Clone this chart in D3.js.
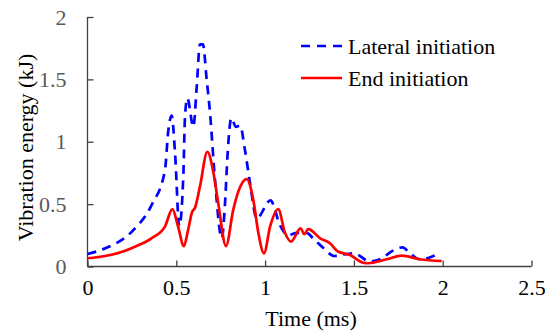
<!DOCTYPE html>
<html><head><meta charset="utf-8">
<script src="https://cdn.jsdelivr.net/npm/d3@7/dist/d3.min.js"></script>
<style>body{margin:0;background:#fff}svg{display:block}</style>
</head><body><svg id="c" width="545" height="332"></svg>
<script>
const xTicks = [0, 0.5, 1, 1.5, 2, 2.5];
const yTicks = [0, 0.5, 1, 1.5, 2];
const seriesNames = ["Lateral initiation", "End initiation"];
const lateralT = [0, 0.1, 0.25, 0.36, 0.436, 0.455, 0.474, 0.493, 0.517, 0.54, 0.549, 0.562, 0.596, 0.615, 0.633, 0.65, 0.671, 0.69, 0.718, 0.756, 0.774, 0.79, 0.81, 0.835, 0.859, 0.887, 0.915, 0.953, 1.03, 1.084, 1.13, 1.18, 1.234, 1.27, 1.33, 1.39, 1.46, 1.5, 1.59, 1.647, 1.72, 1.775, 1.806, 1.87, 1.93, 1.96];
const lateralV = [0.10, 0.146, 0.28, 0.49, 0.77, 1.09, 1.21, 0.91, 0.32, 0.75, 1.2, 1.35, 1.12, 1.44, 1.78, 1.78, 1.5, 1.23, 0.69, 0.226, 0.5, 0.93, 1.19, 1.12, 1.13, 0.93, 0.67, 0.386, 0.53, 0.33, 0.25, 0.27, 0.27, 0.226, 0.146, 0.084, 0.1, 0.106, 0.04, 0.058, 0.127, 0.154, 0.12, 0.058, 0.074, 0.092];
const endT = [0, 0.1, 0.2, 0.27, 0.36, 0.436, 0.478, 0.51, 0.543, 0.566, 0.59, 0.605, 0.633, 0.675, 0.708, 0.737, 0.78, 0.82, 0.849, 0.896, 0.934, 0.962, 0.994, 1.028, 1.074, 1.112, 1.146, 1.2, 1.22, 1.243, 1.31, 1.365, 1.41, 1.478, 1.553, 1.58, 1.685, 1.77, 1.87, 1.994];
const endV = [0.066, 0.084, 0.12, 0.16, 0.226, 0.32, 0.46, 0.32, 0.164, 0.29, 0.44, 0.47, 0.64, 0.92, 0.76, 0.5, 0.164, 0.45, 0.6, 0.70, 0.53, 0.27, 0.106, 0.32, 0.46, 0.27, 0.2, 0.306, 0.26, 0.30, 0.226, 0.186, 0.12, 0.092, 0.03, 0.026, 0.058, 0.087, 0.058, 0.044];

const FONT = '"Liberation Serif"';
const svg = d3.select("#c");
const x = d3.scaleLinear().domain([0, 2.5]).range([87.5, 531.5]);
const y = d3.scaleLinear().domain([0, 2]).range([266.5, 17]);
const axisCol = "#404040";

// axes
const gx = svg.append("g").attr("transform", `translate(0,${y(0)})`)
  .call(d3.axisBottom(x).tickValues(xTicks).tickSize(-6).tickPadding(13).tickFormat(d3.format("")));
gx.select(".domain").attr("stroke", axisCol).attr("stroke-width", 1.3).attr("d", `M${x(0)},0H${x(2.5)}`);
gx.selectAll(".tick line").attr("stroke", axisCol).attr("stroke-width", 1.3);
gx.selectAll("text").style("font-family", FONT).style("font-size", "22px").attr("fill", "#000");

const gy = svg.append("g").attr("transform", `translate(${x(0)},0)`)
  .call(d3.axisLeft(y).tickValues(yTicks).tickSize(-6).tickPadding(21).tickFormat(d3.format("")));
gy.select(".domain").attr("stroke", axisCol).attr("stroke-width", 1.3).attr("d", `M0,${y(0)}V${y(2)}`);
gy.selectAll(".tick line").attr("stroke", axisCol).attr("stroke-width", 1.3);
gy.selectAll("text").style("font-family", FONT).style("font-size", "22px").attr("fill", "#595959");

// titles
svg.append("text").attr("x", 311).attr("y", 326).attr("text-anchor", "middle")
  .style("font-family", FONT).style("font-size", "22px").attr("fill", "#000").text("Time (ms)");
svg.append("text").attr("transform", "translate(33,147.5) rotate(-90)").attr("text-anchor", "middle")
  .style("font-family", FONT).style("font-size", "22px").attr("fill", "#000").text("Vibration energy (kJ)");

// lines
const line = d3.line().x(d => x(d[0])).y(d => y(d[1])).curve(d3.curveMonotoneX);
const lateral = lateralT.map((t, i) => [t, lateralV[i]]);
const end = endT.map((t, i) => [t, endV[i]]);
svg.append("path").attr("d", line(lateral)).attr("fill", "none").attr("stroke", "#0000ff")
  .attr("stroke-width", 2.7).attr("stroke-dasharray", "9,6.5");
svg.append("path").attr("d", line(end)).attr("fill", "none").attr("stroke", "#ff0000")
  .attr("stroke-width", 2.7);

// legend
const leg = [{name: seriesNames[0], col: "#0000ff", dash: "9,7", ly: 46, ty: 53.5},
             {name: seriesNames[1], col: "#ff0000", dash: null, ly: 78, ty: 85.5}];
leg.forEach(l => {
  svg.append("line").attr("x1", 301).attr("x2", 342).attr("y1", l.ly).attr("y2", l.ly)
    .attr("stroke", l.col).attr("stroke-width", 2.7).attr("stroke-dasharray", l.dash);
  svg.append("text").attr("x", 348).attr("y", l.ty)
    .style("font-family", FONT).style("font-size", "22px").attr("fill", "#000").text(l.name);
});
</script></body></html>
